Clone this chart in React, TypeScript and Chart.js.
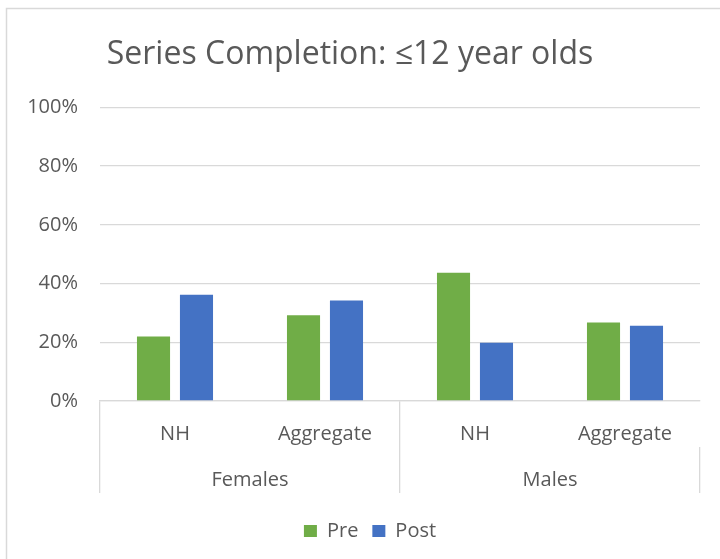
import React, { useEffect, useRef } from "react";
import { Chart, registerables } from "chart.js";

Chart.register(...registerables);

const titleText = "Series Completion: ≤12 year olds";
const categories = ["NH", "Aggregate", "NH", "Aggregate"];
const groups = ["Females", "Males"];
const seriesNames = ["Pre", "Post"];
const preValues = [22.0, 29.2, 43.7, 26.7];
const postValues = [36.2, 34.2, 19.8, 25.6];
const yMax = 100;
const yStep = 20;

const TEXT = "#595959";
const GRID = "#d9d9d9";
const FONT = "'Open Sans', 'Noto Sans', sans-serif";

const frame = {
  id: "frame",
  afterLayout(chart: any) {
    const lg = chart.legend;
    if (lg) {
      lg.left += 20;
      lg.right += 20;
    }
  },
  beforeDraw(chart: any) {
    const { ctx, width, height } = chart;
    ctx.save();
    ctx.fillStyle = "#ffffff";
    ctx.fillRect(0, 0, width, height);
    ctx.strokeStyle = GRID;
    ctx.lineWidth = 1.5;
    ctx.beginPath();
    ctx.moveTo(6.5, height);
    ctx.lineTo(6.5, 8.5);
    ctx.lineTo(width, 8.5);
    ctx.stroke();
    ctx.restore();
  },
};

export default function App() {
  const ref = useRef<HTMLCanvasElement>(null);
  useEffect(() => {
    document.body.style.margin = "0";
    const chart = new Chart(ref.current as HTMLCanvasElement, {
      type: "bar",
      data: {
        labels: categories,
        datasets: [
          { label: seriesNames[0], data: preValues, backgroundColor: "#70AD47" },
          { label: seriesNames[1], data: postValues, backgroundColor: "#4472C4" },
        ],
      },
      options: {
        animation: false,
        responsive: false,
        maintainAspectRatio: false,
        layout: { padding: { left: 0, right: 20, top: 0, bottom: 8 } },
        datasets: { bar: { categoryPercentage: 0.573, barPercentage: 0.77 } },
        plugins: {
          title: {
            display: true,
            text: titleText,
            color: TEXT,
            font: { family: FONT, size: 32, weight: "normal" },
            padding: { top: 36, bottom: 33 },
          },
          legend: {
            position: "bottom",
            labels: {
              color: TEXT,
              font: { family: FONT, size: 20 },
              boxWidth: 13,
              boxHeight: 12,
              padding: 14,
            },
          },
          tooltip: { enabled: false },
        },
        scales: {
          y: {
            min: 0,
            max: yMax,
            ticks: {
              stepSize: yStep,
              color: TEXT,
              font: { family: FONT, size: 20 },
              padding: 22,
              callback: (v: any) => v + "%",
            },
            grid: { color: GRID, lineWidth: 1.3, drawTicks: false },
            border: { display: false },
            afterFit: (s: any) => {
              s.width = 100;
            },
          },
          x: {
            offset: true,
            ticks: { color: TEXT, font: { family: FONT, size: 20 }, padding: -25 },
            grid: {
              offset: true,
              drawOnChartArea: false,
              tickLength: 46,
              lineWidth: 1.3,
              color: (c: any) => (c.index % 2 === 0 ? GRID : "rgba(0,0,0,0)"),
            },
            border: { display: true, color: GRID, width: 1.3 },
            afterFit: (s: any) => {
              s.height = 46;
            },
          },
          x2: {
            type: "category",
            axis: "x",
            labels: groups,
            position: "bottom",
            offset: true,
            ticks: { color: TEXT, font: { family: FONT, size: 20 }, padding: -25 },
            grid: {
              offset: true,
              drawOnChartArea: false,
              tickLength: 46,
              lineWidth: 1.3,
              color: GRID,
            },
            border: { display: false },
            afterFit: (s: any) => {
              s.height = 60;
            },
          },
        },
      },
      plugins: [frame],
    } as any);
    return () => chart.destroy();
  }, []);
  return (
    <div style={{ width: 720, height: 559 }}>
      <canvas ref={ref} width={720} height={559} style={{ display: "block" }} />
    </div>
  );
}
